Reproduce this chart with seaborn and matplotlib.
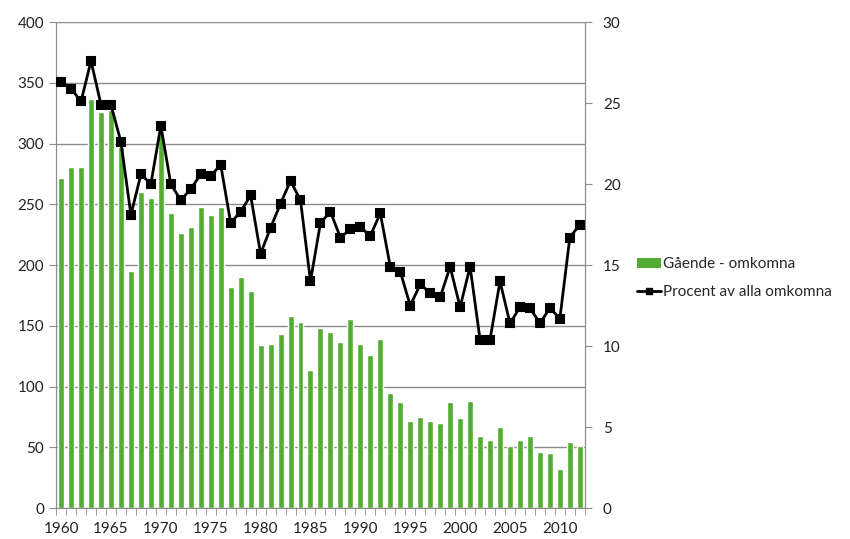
import numpy as np
import pandas as pd
import matplotlib
matplotlib.use('Agg')
import matplotlib.pyplot as plt
import seaborn as sns
from matplotlib.lines import Line2D
from matplotlib.patches import Patch

# %% Data
years = list(range(1960, 2013))

omkomna = [272, 281, 281, 337, 326, 328, 297, 195, 260, 255,
           308, 243, 226, 231, 248, 241, 248, 182, 190, 179,
           134, 135, 143, 158, 153, 114, 148, 145, 137, 156,
           135, 126, 139, 95, 87, 72, 75, 72, 70, 87,
           74, 88, 59, 56, 67, 51, 56, 59, 46, 45,
           32, 54, 51]

procent = [26.3, 25.9, 25.1, 27.6, 24.9, 24.9, 22.6, 18.1, 20.6, 20.0,
           23.6, 20.0, 19.0, 19.7, 20.6, 20.5, 21.2, 17.6, 18.3, 19.3,
           15.7, 17.3, 18.8, 20.2, 19.0, 14.0, 17.6, 18.3, 16.7, 17.2,
           17.35, 16.8, 18.2, 14.9, 14.6, 12.5, 13.8, 13.3, 13.0, 14.9,
           12.4, 14.9, 10.4, 10.4, 14.0, 11.4, 12.4, 12.35, 11.4, 12.35,
           11.7, 16.7, 17.5]

bar_label = 'Gående - omkomna'
line_label = 'Procent av alla omkomna'

df = pd.DataFrame({'year': [str(y) for y in years], 'omkomna': omkomna, 'procent': procent})

# %% Plot
sns.set_style('white')
plt.rcParams['font.family'] = ['Lato', 'DejaVu Sans']
plt.rcParams['font.size'] = 11

green = '#52AD32'
grid_c = '#8c8c8c'

fig = plt.figure(figsize=(8.5, 5.39), dpi=100)
ax = fig.add_axes([0.066, 0.0575, 0.622, 0.9015])

sns.barplot(data=df, x='year', y='omkomna', color=green, saturation=1, width=0.6, ax=ax, zorder=2)
ax.set_ylim(0, 400)
ax.set_yticks(np.arange(0, 401, 50))
ax.yaxis.grid(True, color=grid_c, linewidth=1)
ax.set_axisbelow(True)
ax.set_xlim(-0.5, len(years) - 0.5)

# category labels every 5 years, tick marks between categories
ax.set_xticks(np.arange(0, len(years), 5))
ax.set_xticklabels([str(y) for y in years[::5]])
ax.set_xticks(np.arange(-0.5, len(years), 1), minor=True)
ax.tick_params(axis='x', which='major', length=0, pad=10, labelsize=11, colors='#222222')
ax.tick_params(axis='x', which='minor', length=5, color=grid_c, direction='out', bottom=True)
ax.tick_params(axis='y', length=5, color=grid_c, direction='out', left=True, labelsize=11, colors='#222222')
ax.set_xlabel('')
ax.set_ylabel('')
ax.spines['top'].set_visible(False)
for s in ['left', 'bottom', 'right']:
    ax.spines[s].set_color(grid_c)

ax2 = ax.twinx()
sns.pointplot(data=df, x='year', y='procent', color='black', markers='s', markersize=5.5,
              linewidth=2, ax=ax2, zorder=5)
ax2.set_ylim(0, 30)
ax2.set_yticks(np.arange(0, 31, 5))
ax2.set_xlim(-0.5, len(years) - 0.5)
ax2.set_ylabel('')
ax2.set_xlabel('')
ax2.tick_params(axis='y', length=5, color=grid_c, direction='out', right=True, labelsize=11, pad=8, colors='#222222')
ax2.spines['top'].set_visible(False)
for s in ['left', 'bottom', 'right']:
    ax2.spines[s].set_color(grid_c)

handles = [Patch(facecolor=green, edgecolor='none'),
           Line2D([0], [0], color='black', linewidth=2, marker='s', markersize=5)]
fig.legend(handles, [bar_label, line_label], loc='center left', bbox_to_anchor=(0.733, 0.484),
           frameon=False, fontsize=11, handlelength=1.6, handletextpad=0.1, labelspacing=0.9)

fig.savefig('out.png', dpi=100)
